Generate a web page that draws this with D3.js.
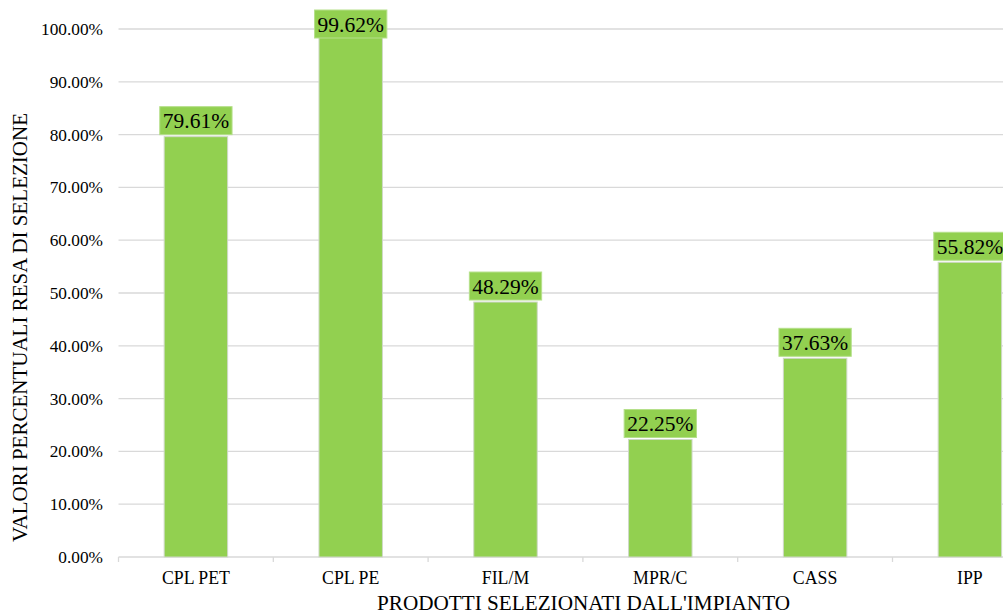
<!DOCTYPE html>
<html><head><meta charset="utf-8">
<script src="https://cdn.jsdelivr.net/npm/d3@7"></script>
<style>body{margin:0;background:#fff}svg{display:block}</style>
</head><body>
<svg id="c" width="1003" height="614" font-family="'Liberation Serif', 'Times New Roman', Times, 'DejaVu Serif', serif"></svg>
<script>
const categories = ["CPL PET","CPL PE","FIL/M","MPR/C","CASS","IPP"];
const values = [79.61, 99.62, 48.29, 22.25, 37.63, 55.82];
const yTicks = [0,10,20,30,40,50,60,70,80,90,100];
const xTitle = "PRODOTTI SELEZIONATI DALL'IMPIANTO";
const yTitle = "VALORI PERCENTUALI RESA DI SELEZIONE";

(function(){
const svg = d3.select("#c");
const pLeft = 118.5, pRight = 1047.3, pTop = 29, pBottom = 557;
const x = d3.scaleBand().domain(categories).range([pLeft, pRight]).padding(0);
const y = d3.scaleLinear().domain([0, 100]).range([pBottom, pTop]);
const green = "#92d050";

svg.append("g").selectAll("line").data(yTicks.filter(d => d > 0)).join("line")
  .attr("x1", pLeft).attr("x2", 1003).attr("y1", d => y(d)).attr("y2", d => y(d))
  .attr("stroke", "#d9d9d9").attr("stroke-width", 1.3);

svg.append("g").selectAll("text").data(yTicks).join("text")
  .attr("x", 103).attr("y", d => y(d)).attr("dy", "0.35em")
  .attr("text-anchor", "end").attr("font-size", 17.3)
  .text(d => d3.format(".2f")(d) + "%");

const bounds = categories.map(c => x(c)).concat([pRight]);
svg.append("line").attr("x1", pLeft).attr("x2", 1003).attr("y1", pBottom).attr("y2", pBottom)
  .attr("stroke", "#d9d9d9").attr("stroke-width", 1.3);
svg.append("g").selectAll("line").data(bounds).join("line")
  .attr("x1", d => d).attr("x2", d => d).attr("y1", pBottom).attr("y2", pBottom + 5)
  .attr("stroke", "#d9d9d9").attr("stroke-width", 1.3);

const bw = x.bandwidth() * 0.41;
svg.append("g").selectAll("rect").data(values).join("rect")
  .attr("x", (d, i) => x(categories[i]) + x.bandwidth() / 2 - bw / 2)
  .attr("width", bw)
  .attr("y", d => y(d)).attr("height", d => pBottom - y(d))
  .attr("fill", green).attr("stroke", "#cfd8c8").attr("stroke-width", 1);

const lg = svg.append("g");
values.forEach((v, i) => {
  const cx = x(categories[i]) + x.bandwidth() / 2;
  const h = 28;
  let boxTop = y(v) - 2 - h;
  if (boxTop < 10) boxTop = 10;
  const t = lg.append("text").attr("x", cx).attr("y", boxTop + h / 2).attr("dy", "0.35em")
    .attr("text-anchor", "middle").attr("font-size", 21.5).text(d3.format(".2f")(v) + "%");
  const w = t.node().getComputedTextLength() + 6;
  lg.insert("rect", "text").attr("x", cx - w / 2).attr("y", boxTop).attr("width", w).attr("height", h)
    .attr("fill", green).attr("stroke", "#b5e08a").attr("stroke-width", 1);
});

svg.append("g").selectAll("text").data(categories).join("text")
  .attr("x", d => x(d) + x.bandwidth() / 2).attr("y", 578).attr("dy", "0.35em")
  .attr("text-anchor", "middle").attr("font-size", 17.8).text(d => d);

svg.append("text").attr("x", 583.5).attr("y", 603).attr("dy", "0.35em")
  .attr("text-anchor", "middle").attr("font-size", 21.2).text(xTitle);
svg.append("text").attr("transform", "translate(20,327.5) rotate(-90)").attr("dy", "0.35em")
  .attr("text-anchor", "middle").attr("font-size", 21).text(yTitle);
})();
</script>
</body></html>
